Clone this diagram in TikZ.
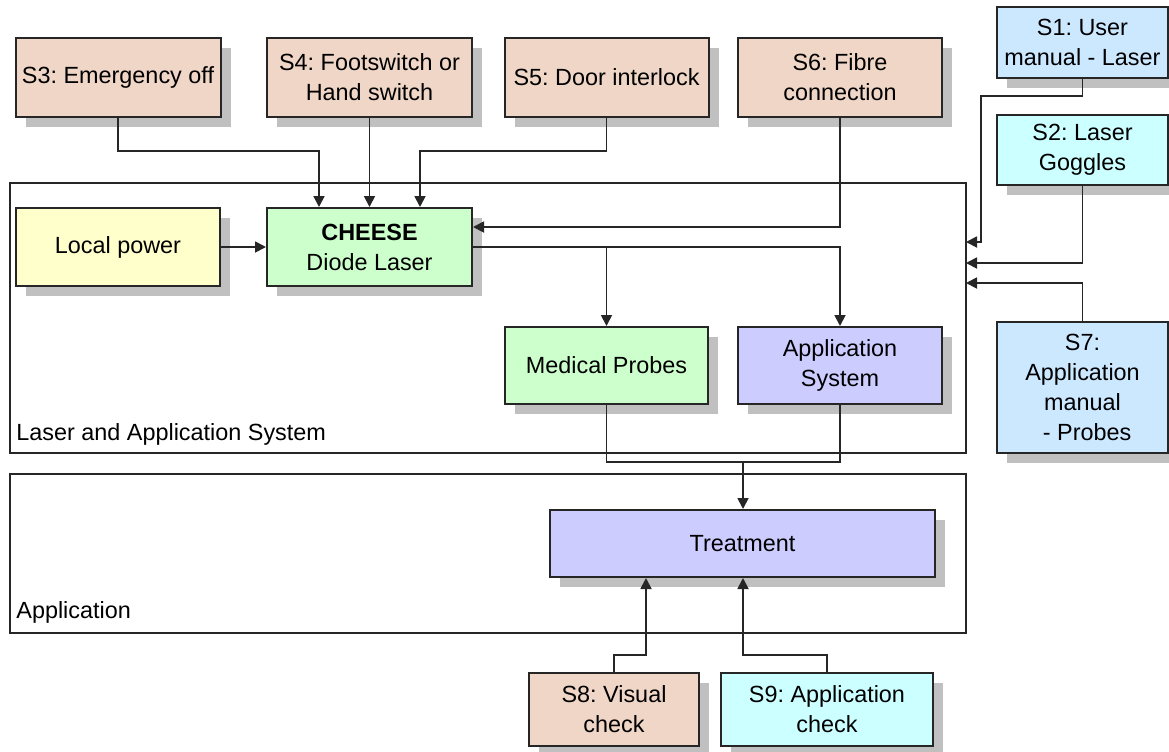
\documentclass[tikz,border=0pt]{standalone}
\usepackage{fontspec}
\setmainfont{Liberation Sans}
\usetikzlibrary{arrows.meta,shadows}
\definecolor{salmon}{RGB}{240,214,198}
\definecolor{lyellow}{RGB}{255,255,204}
\definecolor{lgreen}{RGB}{204,255,204}
\definecolor{lpurple}{RGB}{204,204,255}
\definecolor{lblue}{RGB}{204,232,255}
\definecolor{lcyan}{RGB}{204,255,255}
\definecolor{shade}{RGB}{192,192,192}
\frenchspacing
\begin{document}
\begin{tikzpicture}[x=0.5pt,y=-0.5pt,
  font=\fontsize{11.7}{15}\selectfont,
  box/.style={draw=black!85, line width=1pt, align=center, inner sep=1pt,
    drop shadow={shadow xshift=5pt, shadow yshift=-5pt, fill=shade, opacity=1}},
  frame/.style={draw=black!85, line width=0.9pt, inner sep=0pt},
  conn/.style={draw=black!85, line width=0.9pt},
  arr/.style={conn, -{Triangle[length=5.5pt,width=5.5pt]}},
  lbl/.style={anchor=west, inner sep=0pt}]
\useasboundingbox (0,0) rectangle (1169,751);
% frames
\node[frame, minimum width=478pt, minimum height=135pt] (las) at (488,318) {};
\node[frame, minimum width=478pt, minimum height=79.5pt] (app) at (488,553.5) {};
\node[lbl] (laslbl) at (16,434) {Laser and Application System};
\node[lbl] (applbl) at (16,612) {Application};
% top row
\node[box, fill=salmon, minimum width=102.5pt, minimum height=39.5pt] (s3) at (118,77.5) {S3: Emergency off};
\node[box, fill=salmon, minimum width=102.5pt, minimum height=39.5pt] (s4) at (369.5,77.5) {S4: Footswitch or\\Hand switch};
\node[box, fill=salmon, minimum width=102pt, minimum height=39.5pt] (s5) at (606.5,77.5) {S5: Door interlock};
\node[box, fill=salmon, minimum width=102pt, minimum height=39.5pt] (s6) at (840,77.5) {S6: Fibre\\connection};
% right column
\node[box, fill=lblue, minimum width=85.5pt, minimum height=35.5pt] (s1) at (1082.5,42.5) {S1: User\\manual - Laser};
\node[box, fill=lcyan, minimum width=85.5pt, minimum height=35pt] (s2) at (1082.5,150) {S2: Laser\\Goggles};
\node[box, fill=lblue, minimum width=85.5pt, minimum height=65.5pt] (s7) at (1082.5,387.5) {S7:\\Application\\manual\\\hspace{0.4em}- Probes};
% inner system
\node[box, fill=lyellow, minimum width=102pt, minimum height=39pt] (lp) at (118,247) {Local power};
\node[box, fill=lgreen, minimum width=102.5pt, minimum height=39pt] (ch) at (369.5,247) {\textbf{CHEESE}\\Diode Laser};
\node[box, fill=lgreen, minimum width=101.5pt, minimum height=38.5pt] (mp) at (606.5,365.5) {Medical Probes};
\node[box, fill=lpurple, minimum width=102pt, minimum height=38.5pt] (as) at (840,365.5) {Application\\System};
% application
\node[box, fill=lpurple, minimum width=192.5pt, minimum height=33.5pt] (tr) at (742.5,543.5) {Treatment};
\node[box, fill=salmon, minimum width=85pt, minimum height=36.5pt] (s8) at (614,709.5) {S8: Visual\\check};
\node[box, fill=lcyan, minimum width=106pt, minimum height=36.5pt] (s9) at (827,709.5) {S9: Application\\check};
% connectors
\coordinate (c3) at (319,151);
\coordinate (c5) at (420,151);
\draw[arr] (s3.south) |- (c3) -- (c3 |- ch.north);
\draw[arr] (s4.south) -- (s4.south |- ch.north);
\draw[arr] (s5.south) |- (c5) -- (c5 |- ch.north);
\draw[arr] (s6.south) |- ([yshift=10pt]ch.east);
\draw[arr] (lp.east) -- (ch.west);
\draw[arr] (ch.east) -| (as.north);
\draw[arr] (mp.north |- ch.east) -- (mp.north);
\coordinate (j) at (743,462);
\draw[conn] (mp.south) |- (j) -| (as.south);
\draw[arr] (j) -- (j |- tr.north);
\coordinate (k1) at (981,96);
\coordinate (a1) at (966,242);
\coordinate (a2) at (966,263);
\coordinate (a7) at (966,283);
\draw[arr] (s1.south) |- (k1) |- (a1);
\draw[arr] (s2.south) |- (a2);
\draw[arr] (s7.north) |- (a7);
\coordinate (k8) at (646,655);
\coordinate (k9) at (743,655);
\draw[arr] (s8.north) |- (k8) -- (k8 |- tr.south);
\draw[arr] (s9.north) |- (k9) -- (k9 |- tr.south);
\end{tikzpicture}
\end{document}
